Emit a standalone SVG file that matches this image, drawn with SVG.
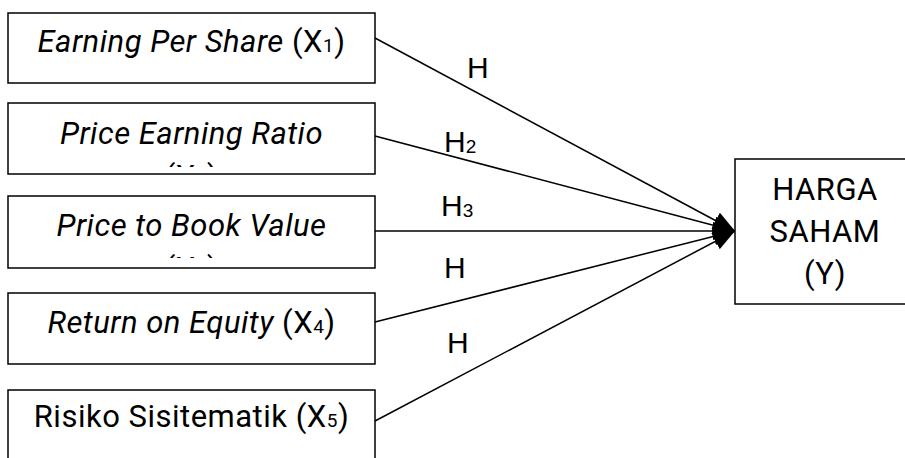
<svg xmlns="http://www.w3.org/2000/svg" width="905" height="458" viewBox="0 0 905 458">
<style>
.box{fill:#fff;stroke:#000;stroke-width:1.5}
.t{font-family:Roboto,"Liberation Sans",sans-serif;font-size:31px;letter-spacing:0.5px;fill:#000;text-anchor:middle}
.i{font-style:italic}
.h{font-family:"Liberation Sans",Arial,sans-serif;font-size:30px;fill:#000}
.sub{font-size:19px}
.con{stroke:#000;stroke-width:1.5;fill:none;marker-end:url(#ah)}
</style>
<defs>
<marker id="ah" markerUnits="userSpaceOnUse" markerWidth="22" markerHeight="18" refX="22" refY="9" orient="auto" viewBox="0 0 22 18">
<path d="M0,0 L22,9 L0,18 z" fill="#000"/>
</marker>
<clipPath id="c2"><rect x="8" y="103" width="367" height="64"/></clipPath>
<clipPath id="c3"><rect x="8" y="196" width="367" height="62"/></clipPath>
</defs>
<g id="connectors">
<line class="con" x1="375" y1="38" x2="735" y2="231"/>
<line class="con" x1="375" y1="136" x2="735" y2="231"/>
<line class="con" x1="375" y1="231" x2="735" y2="231"/>
<line class="con" x1="375" y1="322" x2="735" y2="231"/>
<line class="con" x1="375" y1="421" x2="735" y2="231"/>
<text class="h" x="467" y="78">H</text>
<text class="h" x="444" y="152">H<tspan class="sub" dy="1">2</tspan></text>
<text class="h" x="441" y="216">H<tspan class="sub" dy="1">3</tspan></text>
<text class="h" x="444" y="278">H</text>
<text class="h" x="447" y="353">H</text>
</g>
<g id="x1">
<rect class="box" x="8" y="13" width="367" height="70"/>
<text class="t" x="191.5" y="52"><tspan class="i">Earning Per Share</tspan> (X<tspan class="sub">1</tspan>)</text>
</g>
<g id="x2">
<rect class="box" x="8" y="103" width="367" height="71"/>
<g clip-path="url(#c2)">
<text class="t i" x="191.5" y="144">Price Earning Ratio</text>
<text class="t" x="191.5" y="187">(X<tspan class="sub">2</tspan>)</text>
</g>
</g>
<g id="x3">
<rect class="box" x="8" y="196" width="367" height="72"/>
<g clip-path="url(#c3)">
<text class="t i" x="191.5" y="236">Price to Book Value</text>
<text class="t" x="191.5" y="279">(X<tspan class="sub">3</tspan>)</text>
</g>
</g>
<g id="x4">
<rect class="box" x="8" y="293" width="367" height="71"/>
<text class="t" x="191.5" y="333"><tspan class="i">Return on Equity</tspan> (X<tspan class="sub">4</tspan>)</text>
</g>
<g id="x5">
<rect class="box" x="8" y="390" width="367" height="80"/>
<text class="t" x="191.5" y="427">Risiko Sisitematik (X<tspan class="sub">5</tspan>)</text>
</g>
<g id="y">
<rect class="box" x="735" y="159" width="180" height="145"/>
<text class="t" x="825" y="200">HARGA</text>
<text class="t" x="825" y="242">SAHAM</text>
<text class="t" x="825" y="284">(Y)</text>
</g>
</svg>
